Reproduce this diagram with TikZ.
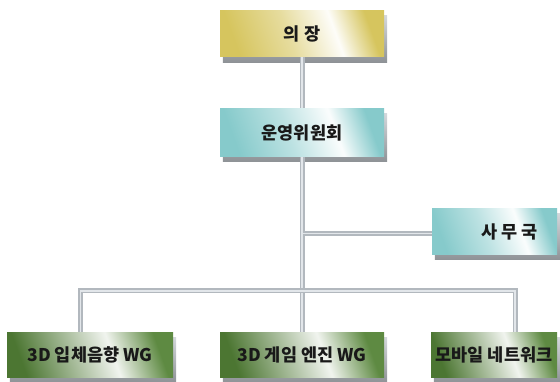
\documentclass[tikz,border=0pt]{standalone}
\usepackage{fontspec}
\newfontfamily\kr{Noto Sans CJK KR}
\usetikzlibrary{backgrounds}
\definecolor{gold}{HTML}{D6C55E}
\definecolor{teal1}{HTML}{86CACB}
\definecolor{green1}{HTML}{4C7632}
\definecolor{green2}{HTML}{5E8A42}
\definecolor{pipec}{HTML}{B2B8BE}
\definecolor{pipel}{HTML}{E2E6EA}
\definecolor{shadl}{HTML}{D4D8DC}
\definecolor{shadd}{HTML}{8E9296}
\pgfdeclarehorizontalshading{goldsh}{100bp}{color(0bp)=(gold); color(25bp)=(gold); color(45bp)=(gold!60!white); color(62bp)=(white!96!gold); color(75bp)=(gold); color(100bp)=(gold)}
\pgfdeclarehorizontalshading{tealsh}{100bp}{color(0bp)=(teal1); color(25bp)=(teal1); color(45bp)=(teal1!55!white); color(62bp)=(white!96!teal1); color(75bp)=(teal1); color(100bp)=(teal1)}
\pgfdeclarehorizontalshading{greensh}{100bp}{color(0bp)=(green1); color(25bp)=(green1); color(45bp)=(green1!45!white); color(58bp)=(white!92!green1); color(75bp)=(green2); color(100bp)=(green2)}
\pgfdeclareverticalshading{shadsh}{100bp}{color(0bp)=(shadd); color(25bp)=(shadd); color(75bp)=(shadl); color(100bp)=(shadl)}
\begin{document}
\begin{tikzpicture}[x=1pt,y=-1pt,
  box/.style={rectangle, inner sep=0pt, minimum height=46pt, font=\kr\bfseries\fontsize{17.5}{20}\selectfont, text=black!90},
  goldbox/.style={box, shading=goldsh, shading angle=20},
  tealbox/.style={box, shading=tealsh, shading angle=20},
  greenbox/.style={box, shading=greensh, shading angle=20},
  pipe/.style={line width=5pt, draw=pipec, line join=miter, postaction={draw=pipel, line width=1.6pt}},
  shadow/.style={shading=shadsh}]
\useasboundingbox (0,0) rectangle (560,382);
\node[goldbox, minimum width=164pt] (chair) at (302,34) {의 장};
\node[tealbox, minimum width=164pt, minimum height=48pt] (comm) at (302,132.5) {운영위원회};
\node[tealbox, minimum width=125pt] (sec) at (494.5,231.5) {\hspace*{30pt}사 무 국};
\node[greenbox, minimum width=166pt, minimum height=45pt] (wg1) at (90,355) {3D 입체음향 WG};
\node[greenbox, minimum width=164pt, minimum height=45pt] (wg2) at (302,355) {3D 게임 엔진 WG};
\node[greenbox, minimum width=126pt, minimum height=45pt] (wg3) at (494,355) {모바일 네트워크};
\coordinate (bs) at (302.5,233.5);
\coordinate (hl) at (80.5,291);
\coordinate (hr) at (515,291);
\begin{scope}[on background layer]
  \foreach \n in {chair,comm,sec,wg1,wg2,wg3}{
    \fill[shadow] ([shift={(3,5)}]\n.north west) rectangle ([shift={(3,5)}]\n.south east);
  }
  \draw[pipe] (chair.south) -- (comm.north);
  \draw[pipe] (comm.south) -- (wg2.north);
  \draw[pipe] (bs) -- (sec.west |- bs);
  \draw[pipe] (hl |- wg1.north) -- (hl) -- (hr) -- (hr |- wg3.north);
\end{scope}
\end{tikzpicture}
\end{document}
